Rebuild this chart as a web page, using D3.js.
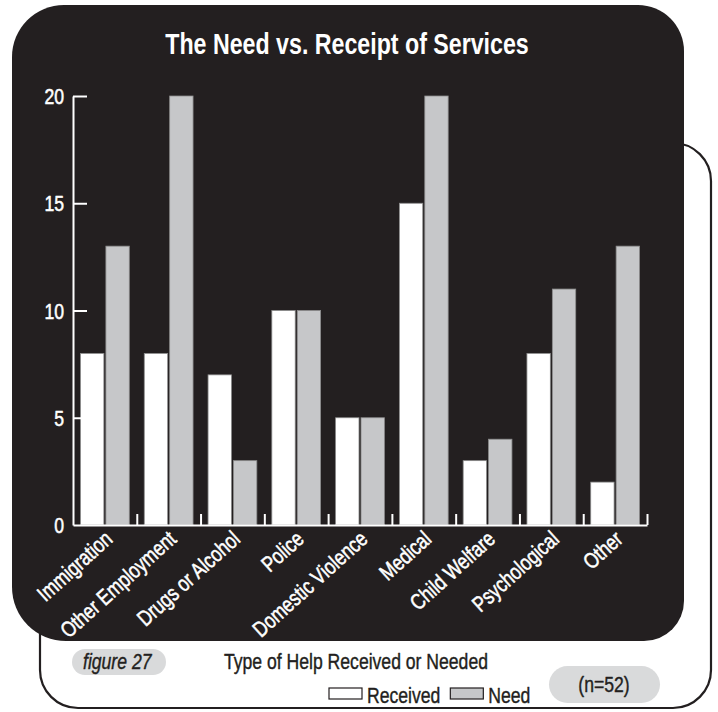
<!DOCTYPE html>
<html>
<head>
<meta charset="utf-8">
<script src="https://cdn.jsdelivr.net/npm/d3@7"></script>
<style>
  html, body { margin: 0; padding: 0; background: #ffffff; }
  svg { display: block; }
  text { font-family: "Liberation Sans", Arial, sans-serif; }
</style>
</head>
<body>
<svg id="chart" width="718" height="712"></svg>
<script>
// ---- data ----
const categories = ["Immigration", "Other Employment", "Drugs or Alcohol", "Police",
  "Domestic Violence", "Medical", "Child Welfare", "Psychological", "Other"];
const received = [8, 8, 7, 10, 5, 15, 3, 8, 2];
const need = [13, 20, 3, 10, 5, 20, 4, 11, 13];
const seriesNames = ["Received", "Need"];
const yTicks = [0, 5, 10, 15, 20];
const titleText = "The Need vs. Receipt of Services";
const xAxisTitle = "Type of Help Received or Needed";
const figureLabel = "figure 27";
const sampleLabel = "(n=52)";

// ---- styles ----
const DARK = "#231f20";
const NEED_FILL = "#c6c7c9";
const colors = { Received: "#ffffff", Need: NEED_FILL };
const SX = 0.8; // horizontal condensing of the font

const svg = d3.select("#chart");

function condText(parent, x, y, str, opts = {}) {
  const fill = opts.fill || DARK;
  const t = parent.append("text")
    .attr("transform", `translate(${x},${y}) ${opts.rotate ? `rotate(${opts.rotate})` : ""} scale(${opts.sx || SX},1)`)
    .attr("text-anchor", opts.anchor || "start")
    .attr("font-size", opts.size || 21)
    .attr("fill", fill)
    .text(str);
  if (opts.weight) t.attr("font-weight", opts.weight);
  else t.attr("stroke", fill).attr("stroke-width", opts.sw || 0.55).attr("stroke-linejoin", "round");
  if (opts.style) t.attr("font-style", opts.style);
  return t;
}

// outer outlined frame (behind dark panel)
svg.append("rect")
  .attr("x", 40).attr("y", 143).attr("width", 671).attr("height", 565)
  .attr("rx", 38).attr("ry", 38)
  .attr("fill", "#fff").attr("stroke", DARK).attr("stroke-width", 2.2);

// dark panel with individual corner radii
function roundedPath(x0, y0, x1, y1, tl, tr, br, bl) {
  return `M${x0 + tl},${y0} H${x1 - tr} A${tr},${tr} 0 0 1 ${x1},${y0 + tr}
    V${y1 - br} A${br},${br} 0 0 1 ${x1 - br},${y1} H${x0 + bl}
    A${bl},${bl} 0 0 1 ${x0},${y1 - bl} V${y0 + tl} A${tl},${tl} 0 0 1 ${x0 + tl},${y0} Z`;
}
svg.append("path")
  .attr("d", roundedPath(12, 5, 684, 641, 52, 46, 40, 54))
  .attr("fill", DARK);

// title
condText(svg, 347, 54, titleText, { anchor: "middle", fill: "#fff", weight: "bold", size: 29, sx: 0.8 });

// scales
const x0 = d3.scaleBand().domain(categories).range([73, 647]).padding(0);
const x1 = d3.scaleBand().domain(seriesNames).range([7.5, x0.bandwidth() - 7.5]).paddingInner(0.08);
const y = d3.scaleLinear().domain([0, 20]).range([525, 96]);
const bounds = d3.scaleLinear().domain([0, categories.length]).range([73, 647]);

// bars
const rows = categories.map((c, i) => ({ cat: c, values: [
  { key: "Received", value: received[i] },
  { key: "Need", value: need[i] } ] }));

svg.append("g").selectAll("g.cat").data(rows).join("g")
  .attr("class", "cat")
  .attr("transform", d => `translate(${x0(d.cat)},0)`)
  .selectAll("rect").data(d => d.values).join("rect")
  .attr("x", d => x1(d.key))
  .attr("y", d => y(d.value))
  .attr("width", x1.bandwidth())
  .attr("height", d => y(0) - y(d.value))
  .attr("fill", d => colors[d.key])
  .attr("stroke", "#8c8c8c").attr("stroke-width", 0.8);

// y axis
const yAxis = svg.append("g").attr("transform", "translate(73,0)")
  .call(d3.axisLeft(y).tickValues(yTicks).tickSize(-14).tickSizeOuter(0).tickPadding(9));
yAxis.select(".domain").attr("stroke", "#fff").attr("stroke-width", 2);
yAxis.selectAll(".tick line").attr("stroke", "#fff").attr("stroke-width", 2)
  .filter(d => d === 0).remove();
yAxis.selectAll(".tick text").remove();
yAxis.selectAll(".tick").each(function (d) {
  condText(d3.select(this), -9, 7.5, d, { anchor: "end", fill: "#fff", size: 22 });
});

// x axis (ticks at category boundaries)
const xAxis = svg.append("g").attr("transform", "translate(0,525)")
  .call(d3.axisBottom(bounds).tickValues(d3.range(1, categories.length + 1))
    .tickSize(-11).tickSizeOuter(0).tickFormat(""));
xAxis.select(".domain").attr("stroke", "#fff").attr("stroke-width", 2);
xAxis.selectAll(".tick line").attr("stroke", "#fff").attr("stroke-width", 2);

// category labels
const labels = svg.append("g");
categories.forEach(c => {
  condText(labels, x0(c) + x0.bandwidth() / 2 + 9, 541, c,
    { anchor: "end", fill: "#fff", size: 22, rotate: -42 });
});

// footer
svg.append("rect").attr("x", 72).attr("y", 649).attr("width", 94).attr("height", 26)
  .attr("rx", 13).attr("fill", "#d9dadb");
condText(svg, 83, 669, figureLabel, { style: "italic", size: 22, sw: 0.4 });
condText(svg, 224, 669, xAxisTitle, { size: 22, sw: 0.4 });

// legend
const legend = svg.append("g").attr("transform", "translate(329,688)");
let lx = 0;
seriesNames.forEach(name => {
  legend.append("rect").attr("x", lx).attr("y", 0).attr("width", 33).attr("height", 11)
    .attr("fill", colors[name]).attr("stroke", DARK).attr("stroke-width", 1.2);
  const t = condText(legend, lx + 38, 15, name, { size: 22, sw: 0.4 });
  lx += 38 + t.node().getComputedTextLength() * SX + 10;
});

svg.append("rect").attr("x", 549).attr("y", 666).attr("width", 111).attr("height", 37)
  .attr("rx", 18.5).attr("fill", "#d9dadb");
condText(svg, 604, 692, sampleLabel, { anchor: "middle", size: 22, sw: 0.4 });
</script>
</body>
</html>
